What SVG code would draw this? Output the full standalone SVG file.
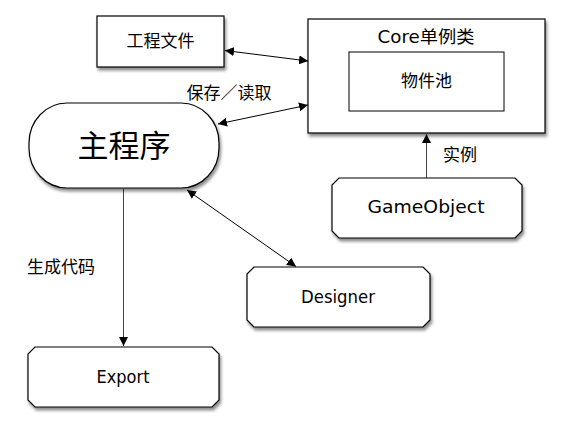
<svg xmlns="http://www.w3.org/2000/svg" width="565" height="431" viewBox="0 0 565 431">
<style>
.box{fill:#fff;stroke:#000;stroke-width:1.2;filter:url(#sh)}
.inner{fill:#fff;stroke:#000;stroke-width:1}
.t{font-family:"Noto Sans CJK SC","DejaVu Sans",sans-serif;font-size:17px;fill:#000;text-anchor:middle}
.l{font-family:"DejaVu Sans","Noto Sans CJK SC",sans-serif;font-size:17px;fill:#000;text-anchor:middle}
.c{stroke:#000;stroke-width:1;fill:none}
.g{stroke:#444;stroke-width:1;fill:none}
</style>
<defs>
<filter id="sh" x="-10%" y="-10%" width="130%" height="140%">
<feDropShadow dx="1.5" dy="3" stdDeviation="1.5" flood-color="#000" flood-opacity="0.45"/>
</filter>
<marker id="ae" viewBox="0 0 10 10" refX="10" refY="5" markerWidth="9" markerHeight="9" markerUnits="userSpaceOnUse" orient="auto-start-reverse">
<path d="M0,0 L10,5 L0,10 z" fill="#000"/>
</marker>
</defs>
<rect width="565" height="431" fill="#fff"/>
<g id="connectors">
<line class="c" x1="225" y1="50.5" x2="308" y2="61" marker-start="url(#ae)" marker-end="url(#ae)"/>
<line class="c" x1="218" y1="124" x2="308" y2="105" marker-start="url(#ae)" marker-end="url(#ae)"/>
<line class="c" x1="187" y1="190" x2="296" y2="266.5" marker-start="url(#ae)" marker-end="url(#ae)"/>
<line class="g" x1="123.5" y1="189" x2="123.5" y2="346" marker-end="url(#ae)"/>
<line class="g" x1="426.5" y1="178" x2="426.5" y2="134" marker-end="url(#ae)"/>
<text class="t" x="229" y="98.5">保存／读取</text>
<text class="t" x="61" y="273">生成代码</text>
<text class="t" x="460" y="161">实例</text>
</g>
<g id="project-file">
<rect class="box" x="97" y="16" width="127" height="51"/>
<text class="t" x="160.5" y="46.5">工程文件</text>
</g>
<g id="core">
<rect class="box" x="308" y="19" width="237" height="114"/>
<text class="l" x="426" y="42.5" textLength="97" lengthAdjust="spacingAndGlyphs">Core单例类</text>
<g id="object-pool">
<rect class="inner" x="349" y="52" width="155" height="59"/>
<text class="t" x="426.5" y="87">物件池</text>
</g>
</g>
<g id="main-program">
<rect class="box" x="29" y="103" width="190" height="85" rx="38" ry="40"/>
<text class="t" x="124" y="157" style="font-size:31px">主程序</text>
</g>
<g id="gameobject">
<path class="box" d="M339,178 H515 L522,185 V231 L515,238 H339 L332,231 V185 Z"/>
<text class="l" x="426" y="213" textLength="117" lengthAdjust="spacingAndGlyphs">GameObject</text>
</g>
<g id="designer">
<path class="box" d="M254,267 H423 L430,274 V320 L423,327 H254 L247,320 V274 Z"/>
<text class="l" x="338" y="303" textLength="74" lengthAdjust="spacingAndGlyphs">Designer</text>
</g>
<g id="export">
<path class="box" d="M35,347 H212 L219,354 V400 L212,407 H35 L28,400 V354 Z"/>
<text class="l" x="123" y="383" textLength="53" lengthAdjust="spacingAndGlyphs">Export</text>
</g>
</svg>
